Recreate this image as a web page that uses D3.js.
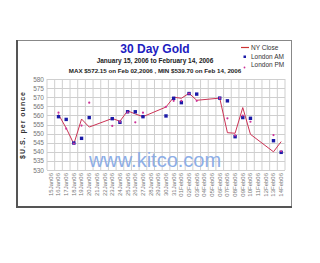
<!DOCTYPE html>
<html>
<head>
<meta charset="utf-8">
<script src="https://cdn.jsdelivr.net/npm/d3@7"></script>
<style>
  body { margin: 0; background: #fff; }
  svg { display: block; font-family: "Liberation Sans", Arial, sans-serif; }
</style>
</head>
<body>
<div id="chart"></div>
<script>
// calendar labels on the x axis
const dayLabels = ["15Jan06","16Jan06","17Jan06","18Jan06","19Jan06","20Jan06","21Jan06","22Jan06",
  "23Jan06","24Jan06","25Jan06","26Jan06","27Jan06","28Jan06","29Jan06","30Jan06","31Jan06",
  "01Feb06","02Feb06","03Feb06","04Feb06","05Feb06","06Feb06","07Feb06","08Feb06","09Feb06",
  "10Feb06","11Feb06","12Feb06","13Feb06","14Feb06"];

// trading days that have prices
const tradeDays = ["16Jan06","17Jan06","18Jan06","19Jan06","20Jan06","23Jan06","24Jan06","25Jan06",
  "26Jan06","27Jan06","30Jan06","31Jan06","01Feb06","02Feb06","03Feb06","06Feb06","07Feb06",
  "08Feb06","09Feb06","10Feb06","13Feb06","14Feb06"];

const nyClose  = [560.5, 553.0, 544.3, 558.0, 553.6, 558.3, 556.8, 562.5, 560.8, 559.3, 564.6,
  570.0, 569.4, 572.15, 568.3, 569.5, 550.5, 550.2, 564.3, 549.6, 540.0, 545.6];
const londonAM = [559.3, 557.8, 544.8, 547.4, 558.8, 558.2, 556.2, 562.0, 562.0, 559.3, 559.7,
  569.4, 567.0, 572.0, 571.7, 569.5, 568.0, 548.3, 558.8, 558.4, 546.1, 539.7];
const londonPM = [561.5, 552.7, 544.5, 554.4, 567.0, 554.2, 556.5, 561.7, 556.2, 561.5, 564.7,
  568.0, 568.0, 572.0, 568.0, 569.5, 558.4, 549.0, 559.9, 556.5, 549.2, 540.3];

const yTicks = [530, 535, 540, 545, 550, 555, 560, 565, 570, 575, 580];

const W = 320, H = 263;
const plot = { left: 47, right: 285, top: 79, bottom: 170 };

const svg = d3.select("#chart").append("svg")
  .attr("width", W).attr("height", H);

// outer frame
svg.append("rect")
  .attr("x", 17.5).attr("y", 40.5).attr("width", 274).attr("height", 167)
  .attr("fill", "#fff").attr("stroke", "#888").attr("stroke-width", 1);
svg.append("line").attr("x1", 17).attr("x2", 17).attr("y1", 40).attr("y2", 208)
  .attr("stroke", "#555").attr("stroke-width", 2);
svg.append("line").attr("x1", 17).attr("x2", 292).attr("y1", 207).attr("y2", 207)
  .attr("stroke", "#555").attr("stroke-width", 2);

const x = d3.scaleBand()
  .domain(dayLabels)
  .range([plot.left, plot.right]);

const y = d3.scaleLinear()
  .domain([530, 580])
  .range([plot.bottom, plot.top]);

const cx = d => x(d) + x.bandwidth() / 2;

// grid
const grid = svg.append("g").attr("stroke", "#cfcfcf").attr("stroke-width", 1);
grid.selectAll("line.h")
  .data(yTicks)
  .enter().append("line")
  .attr("x1", plot.left).attr("x2", plot.right)
  .attr("y1", d => Math.round(y(d)) + 0.5).attr("y2", d => Math.round(y(d)) + 0.5);
grid.selectAll("line.v")
  .data(dayLabels.concat(["end"]))
  .enter().append("line")
  .attr("x1", (d, i) => i < dayLabels.length ? x(d) : plot.right)
  .attr("x2", (d, i) => i < dayLabels.length ? x(d) : plot.right)
  .attr("y1", plot.top).attr("y2", plot.bottom);

// watermark
svg.append("text")
  .attr("x", 155).attr("y", 167)
  .attr("text-anchor", "middle")
  .attr("font-size", 20).attr("fill", "#8eaee6")
  .text("www.kitco.com");

// y axis
const yAxis = svg.append("g")
  .attr("transform", `translate(${plot.left},0)`)
  .call(d3.axisLeft(y).tickValues(yTicks).tickSize(0).tickPadding(3));
yAxis.select(".domain").remove();
yAxis.selectAll("text").attr("font-size", 6.5).attr("fill", "#777").attr("font-family", null);

// x axis
const xAxis = svg.append("g")
  .attr("transform", `translate(0,${plot.bottom})`)
  .call(d3.axisBottom(x).tickSize(0).tickPadding(0));
xAxis.select(".domain").remove();
xAxis.selectAll("text")
  .attr("font-size", 6).attr("fill", "#777").attr("font-family", null)
  .attr("transform", "rotate(-90)")
  .attr("text-anchor", "end")
  .attr("dy", "0.32em")
  .attr("x", -3).attr("y", 0);

// series
const line = d3.line()
  .x((d, i) => cx(tradeDays[i]))
  .y(d => y(d));

svg.append("path")
  .datum(nyClose)
  .attr("fill", "none")
  .attr("stroke", "#cc3355")
  .attr("stroke-width", 1)
  .attr("d", line);

svg.selectAll("rect.am")
  .data(londonAM)
  .enter().append("rect")
  .attr("x", (d, i) => cx(tradeDays[i]) - 1.7)
  .attr("y", d => y(d) - 1.7)
  .attr("width", 3.4).attr("height", 3.4)
  .attr("fill", "#1a1aa8");

svg.selectAll("circle.pm")
  .data(londonPM)
  .enter().append("circle")
  .attr("cx", (d, i) => cx(tradeDays[i]))
  .attr("cy", d => y(d))
  .attr("r", 1.1)
  .attr("fill", "#cc3399");

// titles
svg.append("text")
  .attr("x", 155).attr("y", 53)
  .attr("text-anchor", "middle")
  .attr("font-size", 12).attr("font-weight", "bold").attr("fill", "#2020c0")
  .text("30 Day Gold");
svg.append("text")
  .attr("x", 155).attr("y", 63)
  .attr("text-anchor", "middle")
  .attr("font-size", 6.5).attr("font-weight", "bold").attr("fill", "#222")
  .text("January 15, 2006 to February 14, 2006");
svg.append("text")
  .attr("x", 155).attr("y", 73)
  .attr("text-anchor", "middle")
  .attr("font-size", 6.2).attr("font-weight", "bold").attr("fill", "#222")
  .text("MAX $572.15 on Feb 02,2006 , MIN $539.70 on Feb 14, 2006");

svg.append("text")
  .attr("transform", "translate(25,125) rotate(-90)")
  .attr("text-anchor", "middle")
  .attr("font-size", 7).attr("font-weight", "bold").attr("fill", "#333")
  .attr("letter-spacing", 1)
  .text("$U.S. per ounce");

// legend
const legend = svg.append("g").attr("font-size", 6.5).attr("fill", "#333");
legend.append("line")
  .attr("x1", 241).attr("x2", 249).attr("y1", 47.5).attr("y2", 47.5)
  .attr("stroke", "#cc3333").attr("stroke-width", 1.2);
legend.append("text").attr("x", 251).attr("y", 50).text("NY Close");
legend.append("rect")
  .attr("x", 243.5).attr("y", 55.5).attr("width", 2.5).attr("height", 2.5)
  .attr("fill", "#1a1aa8");
legend.append("text").attr("x", 251).attr("y", 59).text("London AM");
legend.append("circle")
  .attr("cx", 244.5).attr("cy", 67.5).attr("r", 0.9)
  .attr("fill", "#cc3399");
legend.append("text").attr("x", 251).attr("y", 67).text("London PM");
</script>
</body>
</html>
